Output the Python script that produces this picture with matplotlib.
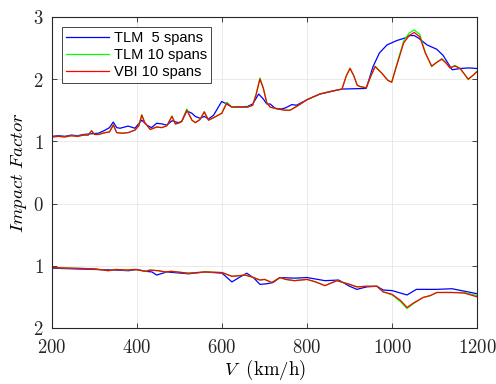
import matplotlib
matplotlib.use("Agg")
import matplotlib.pyplot as plt
from matplotlib.ticker import FuncFormatter

plt.rcParams["mathtext.fontset"] = "cm"

# ---- upper envelope (positive impact factor) ----
v_red_up = [200, 215, 230, 245, 260, 274, 285, 293, 300, 309, 325, 335, 344, 352, 365,
            379, 395, 404, 411, 418, 431, 446, 458, 470, 482, 490, 497, 505, 517, 529,
            537, 548, 558, 568, 580, 599, 611, 623, 640, 660, 672, 680, 689, 697, 705,
            713, 730, 748, 760, 780, 800, 830, 860, 882, 892, 901, 910, 918, 925, 939,
            950, 960, 975, 990, 999, 1010, 1027, 1040, 1052, 1065, 1078, 1093, 1105,
            1117, 1128, 1136, 1148, 1160, 1170, 1179, 1190, 1200]
red_up = [1.07, 1.08, 1.07, 1.09, 1.08, 1.10, 1.10, 1.17, 1.11, 1.11, 1.14, 1.15, 1.26,
          1.14, 1.13, 1.14, 1.18, 1.25, 1.42, 1.30, 1.19, 1.23, 1.22, 1.25, 1.40, 1.28,
          1.29, 1.32, 1.50, 1.34, 1.30, 1.35, 1.47, 1.34, 1.38, 1.45, 1.61, 1.55, 1.55,
          1.55, 1.58, 1.75, 2.00, 1.85, 1.62, 1.55, 1.52, 1.50, 1.50, 1.58, 1.67, 1.76,
          1.81, 1.84, 2.05, 2.17, 2.05, 1.90, 1.88, 1.86, 2.05, 2.20, 2.10, 1.98, 1.95,
          2.20, 2.58, 2.70, 2.75, 2.68, 2.42, 2.21, 2.27, 2.32, 2.25, 2.18, 2.21, 2.17,
          2.08, 2.00, 2.06, 2.12]
green_up = [1.07, 1.08, 1.07, 1.09, 1.08, 1.10, 1.10, 1.17, 1.11, 1.11, 1.14, 1.15, 1.27,
            1.14, 1.13, 1.14, 1.18, 1.25, 1.43, 1.30, 1.19, 1.23, 1.22, 1.25, 1.41, 1.28,
            1.29, 1.32, 1.52, 1.34, 1.30, 1.35, 1.48, 1.34, 1.38, 1.45, 1.63, 1.55, 1.55,
            1.55, 1.58, 1.76, 2.02, 1.86, 1.62, 1.55, 1.52, 1.50, 1.50, 1.58, 1.67, 1.76,
            1.81, 1.84, 2.05, 2.18, 2.05, 1.90, 1.88, 1.86, 2.05, 2.21, 2.10, 1.98, 1.95,
            2.22, 2.61, 2.74, 2.79, 2.72, 2.43, 2.20, 2.27, 2.33, 2.25, 2.18, 2.22, 2.17,
            2.08, 1.99, 2.06, 2.13]

v_blue_up = [200, 215, 230, 245, 260, 274, 290, 309, 325, 335, 344, 352, 360, 379, 395,
             411, 423, 434, 446, 458, 470, 482, 497, 505, 517, 529, 537, 548, 558, 568,
             580, 599, 611, 623, 660, 672, 686, 697, 705, 713, 725, 740, 750, 764, 775,
             800, 830, 882, 939, 955, 970, 988, 1011, 1030, 1042, 1052, 1062, 1082, 1105,
             1120, 1141, 1160, 1180, 1200]
blue_up = [1.08, 1.09, 1.08, 1.10, 1.09, 1.11, 1.12, 1.13, 1.18, 1.22, 1.31, 1.22, 1.21,
           1.245, 1.21, 1.34, 1.26, 1.22, 1.29, 1.28, 1.26, 1.33, 1.30, 1.32, 1.49, 1.45,
           1.40, 1.37, 1.40, 1.36, 1.42, 1.64, 1.60, 1.55, 1.56, 1.60, 1.76, 1.68, 1.60,
           1.60, 1.53, 1.52, 1.54, 1.59, 1.58, 1.67, 1.76, 1.84, 1.85, 2.20, 2.42, 2.55,
           2.62, 2.66, 2.70, 2.70, 2.66, 2.55, 2.48, 2.38, 2.15, 2.17, 2.18, 2.17]

# ---- lower envelope (negative impact factor) ----
v_red_lo = [200, 250, 300, 332, 350, 376, 395, 420, 430, 450, 466, 480, 521, 560, 600,
            623, 640, 654, 670, 689, 700, 717, 736, 750, 770, 800, 820, 842, 870, 900,
            917, 940, 964, 979, 1000, 1020, 1035, 1050, 1073, 1090, 1105, 1141, 1170, 1200]
red_lo = [-1.03, -1.04, -1.05, -1.08, -1.06, -1.07, -1.06, -1.09, -1.07, -1.08, -1.10,
          -1.09, -1.12, -1.10, -1.11, -1.17, -1.16, -1.15, -1.18, -1.23, -1.22, -1.27,
          -1.19, -1.22, -1.24, -1.22, -1.26, -1.32, -1.24, -1.30, -1.34, -1.33, -1.33,
          -1.42, -1.46, -1.56, -1.67, -1.60, -1.51, -1.48, -1.43, -1.43, -1.44, -1.50]
green_lo = [-1.03, -1.04, -1.05, -1.08, -1.06, -1.07, -1.06, -1.09, -1.07, -1.08, -1.10,
            -1.09, -1.12, -1.10, -1.11, -1.17, -1.16, -1.15, -1.18, -1.23, -1.22, -1.27,
            -1.19, -1.22, -1.24, -1.22, -1.26, -1.32, -1.24, -1.30, -1.34, -1.33, -1.33,
            -1.42, -1.47, -1.58, -1.69, -1.61, -1.51, -1.48, -1.43, -1.43, -1.43, -1.48]

v_blue_lo = [200, 250, 300, 350, 380, 400, 420, 435, 446, 470, 521, 560, 600, 623, 640,
             658, 675, 689, 705, 720, 736, 770, 800, 842, 874, 900, 917, 940, 964, 979,
             1000, 1035, 1057, 1105, 1141, 1200]
blue_lo = [-1.04, -1.05, -1.06, -1.07, -1.08, -1.06, -1.09, -1.10, -1.15, -1.10, -1.13,
           -1.10, -1.12, -1.26, -1.19, -1.12, -1.20, -1.30, -1.29, -1.27, -1.19, -1.20,
           -1.19, -1.24, -1.23, -1.33, -1.38, -1.34, -1.33, -1.39, -1.40, -1.47, -1.38,
           -1.38, -1.37, -1.45]

Y_TICKS = [-2, -1, 0, 1, 2, 3]

fig = plt.figure(figsize=(4.96, 3.84), dpi=100)
ax = fig.add_axes([0.105, 0.146, 0.857, 0.81])

ax.plot(v_blue_up, blue_up, color="#0000ff", lw=0.9, label="TLM  5 spans")
ax.plot(v_red_up, green_up, color="#00ff00", lw=0.9, label="TLM 10 spans")
ax.plot(v_red_up, red_up, color="#ff0000", lw=0.9, label="VBI 10 spans")
ax.plot(v_blue_lo, blue_lo, color="#0000ff", lw=0.9)
ax.plot(v_red_lo, green_lo, color="#00ff00", lw=0.9)
ax.plot(v_red_lo, red_lo, color="#ff0000", lw=0.9)

ax.set_xlim(200, 1200)
ax.set_ylim(-2, 3)
ax.set_xticks([200, 400, 600, 800, 1000, 1200])
ax.set_yticks(Y_TICKS)
ax.xaxis.set_major_formatter(FuncFormatter(lambda v, p: f"${int(v)}$"))
ax.yaxis.set_major_formatter(FuncFormatter(lambda v, p: f"${abs(int(round(v)))}$"))
ax.tick_params(direction="in", top=True, right=True, length=3.5, width=0.6,
               colors="#262626", labelsize=13.5)
ax.tick_params(axis="x", pad=7)
ax.tick_params(axis="y", pad=6)
for s in ax.spines.values():
    s.set_color("#262626")
    s.set_linewidth(0.8)
ax.grid(True, color="#e6e6e6", lw=0.6)
ax.set_axisbelow(True)

ax.set_xlabel(r"$V\ \ \mathrm{(km/h)}$", fontsize=13.5, labelpad=1)
ax.set_ylabel(r"$Impact\ Factor$", fontsize=13.5, labelpad=3)

leg = ax.legend(loc="upper left", bbox_to_anchor=(0.023, 0.968), fancybox=False,
                framealpha=1, edgecolor="#262626",
                prop={"family": "Liberation Sans", "size": 10.5},
                handlelength=2.9, handletextpad=0.35, borderpad=0.3, labelspacing=0.2,
                borderaxespad=0)
leg.get_frame().set_linewidth(0.6)

fig.savefig("out.png", dpi=100)
